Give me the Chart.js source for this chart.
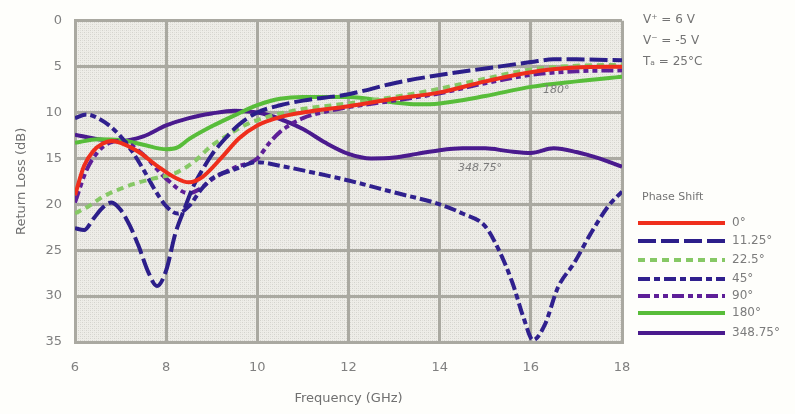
<!DOCTYPE html>
<html>
<head>
<meta charset="utf-8">
<script src="https://cdn.jsdelivr.net/npm/chart.js@4.4.1/dist/chart.umd.min.js"></script>
<style>
  html, body { margin: 0; padding: 0; background: #fefefb; }
  #wrap { width: 795px; height: 414px; }
</style>
</head>
<body>
<div id="wrap"><canvas id="chart" width="795" height="414"></canvas></div>
<script>
'use strict'

/******************     DATA    ******************/

const phaseNames = ['0°', '11.25°', '22.5°', '45°', '90°', '180°', '348.75°'];

const f000 = [6, 6.2, 6.4, 6.6, 6.8, 7, 7.4, 7.8, 8.2, 8.5, 8.8, 9.2, 9.6, 10, 10.5, 11, 12, 13, 14, 15, 16, 17, 18];
const rl000 = [19, 15.8, 14.2, 13.4, 13.1, 13.3, 14.3, 15.8, 17.1, 17.6, 17, 15, 12.8, 11.4, 10.5, 10, 9.3, 8.5, 7.8, 6.6, 5.6, 5.1, 5.0];

const f011 = [6, 6.2, 6.4, 6.6, 6.8, 7, 7.2, 7.4, 7.6, 7.8, 8, 8.2, 8.4, 8.6, 8.8, 9, 9.3, 9.6, 10, 10.5, 11, 12, 13, 14, 15, 16, 16.5, 17, 18];
const rl011 = [22.6, 22.8, 21.6, 20.4, 19.8, 20.6, 22.3, 24.6, 27.3, 28.9, 27.2, 23.2, 20.5, 18.0, 16.2, 14.6, 12.8, 11.3, 10.0, 9.2, 8.7, 8.0, 6.8, 5.9, 5.2, 4.5, 4.2, 4.2, 4.3];

const f022 = [6, 6.3, 6.6, 7, 7.4, 7.8, 8.2, 8.6, 9, 9.4, 9.8, 10.2, 10.6, 11, 12, 13, 14, 15, 16, 17, 18];
const rl022 = [21, 20.2, 19.2, 18.3, 17.6, 17.1, 16.6, 15.4, 13.6, 12.3, 11.2, 10.5, 10.0, 9.6, 9.0, 8.3, 7.4, 6.3, 5.3, 4.9, 4.8];

const f045 = [6, 6.25, 6.5, 6.75, 7, 7.25, 7.5, 7.75, 8, 8.25, 8.5, 8.75, 9, 9.5, 10, 10.5, 11, 12, 13, 14, 14.5, 15, 15.3, 15.6, 15.85, 16.05, 16.3, 16.6, 16.95, 17.3, 17.7, 18];
const rl045 = [10.6, 10.2, 10.6, 11.4, 12.6, 14.2, 16.2, 18.4, 20.2, 21.0, 20.2, 18.5, 17.2, 16.2, 15.4, 15.8, 16.3, 17.4, 18.7, 20.0, 21.0, 22.4, 25.0, 28.6, 32.5, 34.8, 33.2, 29.0, 26.4, 23.3, 20.2, 18.6];

const f090 = [6, 6.25, 6.5, 6.75, 7, 7.5, 8, 8.5, 8.75, 9, 9.5, 10, 10.25, 10.5, 11, 11.5, 12, 13, 14, 15, 16, 17, 18];
const rl090 = [19.8, 16.3, 14.3, 13.3, 13.1, 14.6, 17.2, 18.8, 18.3, 17.3, 16.0, 15.0, 13.4, 12.1, 10.6, 9.9, 9.4, 8.7, 7.9, 6.8, 5.9, 5.5, 5.4];

const f180 = [6, 6.5, 7, 7.5, 8, 8.25, 8.5, 9, 9.5, 10, 10.5, 11, 12, 13, 13.5, 14, 15, 16, 17, 18];
const rl180 = [13.3, 12.9, 13.0, 13.5, 14.0, 13.8, 12.9, 11.5, 10.3, 9.2, 8.5, 8.3, 8.3, 8.9, 9.1, 9.0, 8.2, 7.2, 6.6, 6.1];

const f348 = [6, 6.5, 7, 7.5, 8, 8.5, 9, 9.5, 10, 10.5, 11, 11.5, 12, 12.5, 13, 13.5, 14, 14.5, 15, 15.5, 16, 16.5, 17, 17.5, 18];
const rl348 = [12.4, 12.9, 13.1, 12.6, 11.4, 10.6, 10.1, 9.8, 10.0, 10.7, 11.8, 13.3, 14.5, 15.0, 14.9, 14.5, 14.1, 13.9, 13.9, 14.2, 14.4, 13.9, 14.3, 15.0, 15.9];

const xTicks = [6, 8, 10, 12, 14, 16, 18];
const yTicks = [0, 5, 10, 15, 20, 25, 30, 35];

const notes = ['V\u207A = 6 V', 'V\u207B = -5 V', 'T\u2090 = 25°C'];

/******************     HELPERS    ******************/

const pairUp = (xs, ys) => xs.map((x, i) => ({x: x, y: ys[i]}));

const makeSeries = (label, xs, ys, color, dash) => ({
    label: label,
    data: pairUp(xs, ys),
    borderColor: color,
    backgroundColor: color,
    borderWidth: 4,
    borderDash: dash,
    pointRadius: 0,
    cubicInterpolationMode: 'monotone',
    fill: false
});

// light cross hatch for the plot paper
const hatch = document.createElement('canvas');
hatch.width = 4; hatch.height = 4;
(() => {
    const g = hatch.getContext('2d');
    g.fillStyle = '#eeede8'; g.fillRect(0, 0, 4, 4);
    g.fillStyle = '#d4d3cd';
    g.fillRect(0, 0, 1, 1); g.fillRect(2, 2, 1, 1);
    g.fillStyle = '#e0dfda';
    g.fillRect(2, 0, 1, 1); g.fillRect(0, 2, 1, 1);
})();

const gridColor = '#aaa9a1';
const textColor = '#808080';
const font = 'DejaVu Sans';

/******************     PLUGIN: paper, notes, legend    ******************/

const extras = {
    id: 'extras',
    beforeDraw(chart) {
        const {ctx, chartArea: a} = chart;
        ctx.save();
        ctx.fillStyle = ctx.createPattern(hatch, 'repeat');
        ctx.fillRect(a.left, a.top, a.width, a.height);
        ctx.restore();
    },
    afterDraw(chart) {
        const ctx = chart.ctx;
        ctx.save();
        ctx.fillStyle = '#747474';
        ctx.font = `12px "${font}"`;
        ctx.textBaseline = 'middle';
        ctx.textAlign = 'left';
        notes.forEach((t, i) => ctx.fillText(t, 643, 20 + i * 21));

        ctx.font = `italic 11px "${font}"`;
        ctx.fillStyle = '#7c7c7c';
        ctx.fillText('180°', 543, 90);
        ctx.fillText('348.75°', 458, 168);

        ctx.font = `11px "${font}"`;
        ctx.fillStyle = '#747474';
        ctx.fillText('Phase Shift', 642, 197);

        const rows = [223, 241, 260, 279, 296, 313, 333];
        chart.data.datasets.forEach((ds, i) => {
            ctx.beginPath();
            ctx.strokeStyle = ds.borderColor;
            ctx.lineWidth = 4;
            ctx.setLineDash(ds.borderDash || []);
            ctx.moveTo(638, rows[i]);
            ctx.lineTo(725, rows[i]);
            ctx.stroke();
            ctx.setLineDash([]);
            ctx.fillStyle = '#7c7c7c';
            ctx.font = `12px "${font}"`;
            ctx.fillText(ds.label, 732, rows[i]);
        });
        ctx.restore();
    }
};

/******************     CHART    ******************/

const datasets = [
    makeSeries(phaseNames[0], f000, rl000, '#ef2e1c', []),
    makeSeries(phaseNames[1], f011, rl011, '#2c1e8a', [18, 5]),
    makeSeries(phaseNames[2], f022, rl022, '#86c865', [7, 5]),
    makeSeries(phaseNames[3], f045, rl045, '#30208e', [12, 4, 6, 4]),
    makeSeries(phaseNames[4], f090, rl090, '#5e1f98', [12, 4, 5, 4, 5, 4]),
    makeSeries(phaseNames[5], f180, rl180, '#58bd3a', []),
    makeSeries(phaseNames[6], f348, rl348, '#4a1a8e', [])
];

let chart = new Chart(document.getElementById('chart'), {
    type: 'line',
    data: {datasets: datasets},
    plugins: [extras],
    options: {
        responsive: false,
        animation: false,
        devicePixelRatio: 1,
        layout: {padding: {left: 0, top: 13, right: 173, bottom: 0}},
        plugins: {legend: {display: false}, tooltip: {enabled: false}},
        scales: {
            x: {
                type: 'linear',
                min: 6, max: 18,
                afterFit: (s) => { s.height = 72; },
                afterBuildTicks: (s) => { s.ticks = xTicks.map(v => ({value: v})); },
                grid: {color: gridColor, lineWidth: 3, drawTicks: false},
                border: {color: gridColor, width: 3},
                ticks: {color: textColor, padding: 18, font: {family: font, size: 13}},
                title: {display: true, text: 'Frequency (GHz)', color: '#707070',
                        font: {family: font, size: 13}, padding: {top: 0, bottom: 8}}
            },
            y: {
                type: 'linear',
                reverse: true,
                min: 0, max: 35,
                afterFit: (s) => { s.width = 75; },
                afterBuildTicks: (s) => { s.ticks = yTicks.map(v => ({value: v})); },
                grid: {color: gridColor, lineWidth: 3, drawTicks: false},
                border: {color: gridColor, width: 3},
                ticks: {color: textColor, padding: 13, font: {family: font, size: 13}},
                title: {display: true, text: 'Return Loss (dB)', color: '#707070',
                        font: {family: font, size: 13}, padding: {top: 14, bottom: 0}}
            }
        }
    }
});
</script>
</body>
</html>
